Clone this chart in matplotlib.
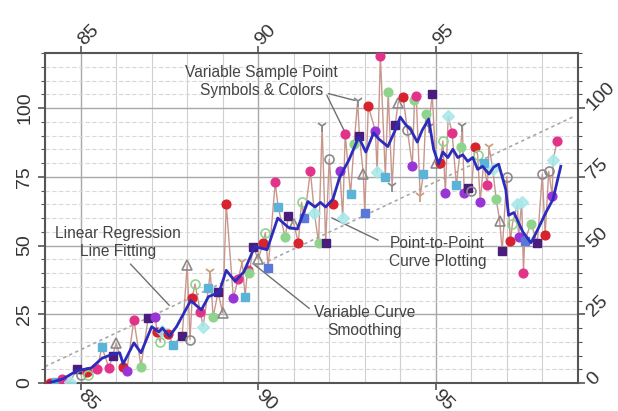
import numpy as np
import matplotlib
matplotlib.use("Agg")
import matplotlib.pyplot as plt
from matplotlib.ticker import MultipleLocator

plt.rcParams['font.family'] = ['Liberation Sans', 'DejaVu Sans']

# sample points: x, y, symbol code, colour code
pt_x = [84.14, 84.3, 84.48, 84.7, 84.9, 85.0, 85.18, 85.22, 85.46, 85.6,
        85.8, 85.9, 86.0, 86.2, 86.3, 86.5, 86.7, 86.9, 87.1, 87.15,
        87.24, 87.3, 87.46, 87.6, 87.86, 88.0, 88.08, 88.14, 88.22, 88.37,
        88.45, 88.6, 88.65, 88.73, 88.87, 89.0, 89.1, 89.3, 89.44, 89.55,
        89.63, 89.7, 89.75, 89.86, 90.0, 90.14, 90.2, 90.28, 90.48, 90.56,
        90.76, 90.85, 91.0, 91.13, 91.22, 91.3, 91.47, 91.58, 91.7, 91.8,
        91.9, 92.0, 92.1, 92.3, 92.38, 92.45, 92.6, 92.7, 92.8, 92.85,
        92.96, 93.0, 93.1, 93.3, 93.35, 93.44, 93.58, 93.66, 93.77, 93.86,
        93.94, 94.08, 94.2, 94.34, 94.4, 94.45, 94.56, 94.65, 94.72, 94.8,
        94.9, 95.0, 95.12, 95.2, 95.27, 95.35, 95.46, 95.58, 95.7, 95.75,
        95.8, 95.9, 96.0, 96.1, 96.18, 96.25, 96.35, 96.45, 96.5, 96.6,
        96.7, 96.8, 96.87, 97.0, 97.1, 97.16, 97.3, 97.33, 97.42, 97.47,
        97.5, 97.68, 97.86, 98.0, 98.08, 98.18, 98.28, 98.3, 98.42]
pt_y = [0, 0.5, 1.5, 0.5, 5, 3, 4, 3, 5, 13,
        5.5, 10, 14.5, 6, 4.5, 23, 6, 23.5, 24, 18.6,
        15, 19, 18, 14, 17, 43, 15.7, 31, 36, 26,
        20.5, 34.6, 40.5, 24, 33, 25.5, 65, 31, 38, 44,
        31.4, 41, 40, 49.6, 45, 51, 54.7, 42, 73, 64,
        53, 60.6, 58, 51, 65.7, 60, 77, 62, 51, 93.4,
        51, 81.4, 65, 77, 60, 90.5, 68.6, 87, 102.5, 89.8,
        76, 62, 100.7, 91.6, 76.6, 119, 75, 106, 71.5, 94,
        102, 104, 92, 79, 103, 104.5, 68, 76, 98, 93,
        105, 80, 80, 88, 69, 97, 91, 72, 86, 93.5,
        69, 71, 70, 86, 83, 66, 80, 72, 86, 78,
        67, 59, 48, 75, 51.5, 58, 65, 53, 66, 40,
        51.5, 58, 51, 76, 54, 77, 68, 81, 88]
pt_sym = ['o', 's', 'o', 'd', 's', 'O', 'o', 'O', 'o', 's',
          'o', 's', '^', 'o', 'o', 'o', 'o', 's', 'o', 'o',
          'O', 'd', 'o', 's', 's', '^', 'O', 'o', 'O', 'o',
          'd', 's', 'Y', 'o', 's', '^', 'o', 'o', 'o', 'Y',
          's', 'o', 'o', 's', '^', 'o', 'O', 's', 'o', 's',
          'o', 's', '^', 'o', 'O', 's', 'o', 'd', 'o', 'Y',
          's', 'O', 'o', 'o', 'd', 'o', 's', 'o', 'Y', 's',
          '^', 's', 'o', 'o', 'd', 'o', 's', 'o', 'Y', 's',
          '^', 'o', 'O', 'o', 'o', 'o', 'Y', 's', 'o', 'Y',
          's', '^', 'o', 'O', 'o', 'd', 'o', 's', 'o', 'Y',
          'o', 's', 'O', 'o', 'O', 'o', 's', 'o', 'Y', 'd',
          'o', '^', 's', 'O', 'o', 'O', 'd', 'o', 'd', 'o',
          's', 'o', 's', 'O', 'o', 'O', 'o', 'd', 'o']
pt_col = ['red', 'cyan', 'pink', 'lcyan', 'dpurple', 'gray', 'red', 'green', 'pink', 'cyan',
          'pink', 'dpurple', 'gray', 'red', 'purple', 'pink', 'green', 'dpurple', 'purple', 'red',
          'green', 'lcyan', 'red', 'cyan', 'dpurple', 'gray', 'gray', 'red', 'green', 'pink',
          'lcyan', 'cyan', 'tan', 'green', 'dpurple', 'gray', 'red', 'purple', 'pink', 'tan',
          'cyan', 'pink', 'green', 'dpurple', 'gray', 'red', 'green', 'blue', 'pink', 'cyan',
          'green', 'dpurple', 'gray', 'red', 'green', 'blue', 'pink', 'lcyan', 'green', 'gray',
          'dpurple', 'gray', 'red', 'purple', 'lcyan', 'pink', 'cyan', 'green', 'gray', 'dpurple',
          'gray', 'blue', 'red', 'purple', 'lcyan', 'pink', 'cyan', 'green', 'gray', 'dpurple',
          'gray', 'red', 'gray', 'purple', 'green', 'pink', 'tan', 'cyan', 'green', 'gray',
          'dpurple', 'gray', 'red', 'green', 'purple', 'lcyan', 'pink', 'cyan', 'green', 'gray',
          'purple', 'dpurple', 'gray', 'red', 'green', 'purple', 'cyan', 'pink', 'tan', 'lcyan',
          'green', 'gray', 'dpurple', 'gray', 'red', 'green', 'lcyan', 'purple', 'lcyan', 'pink',
          'blue', 'green', 'dpurple', 'gray', 'red', 'gray', 'purple', 'lcyan', 'pink']

# smoothed curve
sm_x = [84.1, 84.5, 84.9, 85.3, 85.6, 85.9, 86.1, 86.2, 86.5, 86.7,
        87.0, 87.2, 87.3, 87.5, 87.7, 88.1, 88.4, 88.6, 88.9, 89.1,
        89.35, 89.6, 89.9, 90.25, 90.55, 90.85, 91.1, 91.4, 91.6, 91.75,
        91.9, 92.1, 92.3, 92.55, 92.83, 93.03, 93.25, 93.4, 93.65, 93.86,
        94.0, 94.15, 94.3, 94.48, 94.62, 94.8, 94.94, 95.08, 95.2, 95.34,
        95.48, 95.62, 95.76, 95.9, 96.04, 96.18, 96.32, 96.5, 96.63, 96.77,
        96.97, 97.05, 97.2, 97.45, 97.68, 97.87, 98.1, 98.3, 98.52]
sm_y = [0, 1.5, 4.5, 5.5, 9, 10.5, 11, 7, 14.6, 11,
        20.5, 18.6, 20, 17, 20.5, 30, 26.6, 31.4, 33, 41,
        37, 40.5, 49.6, 48.5, 60, 56.6, 56, 66, 64, 65.7,
        64, 66.8, 75, 81, 89.4, 84, 91, 88.7, 86, 92,
        96.7, 94, 92, 87.6, 92, 96, 85, 79.6, 84, 82,
        85, 82, 83, 80.6, 82, 77.7, 78.8, 76, 78.5, 79.6,
        70.4, 61, 62, 55, 51, 55.8, 62, 66.8, 78.8]

# regression line end points
reg_x = [84.0, 98.9]
reg_y = [6.0, 97.0]

colors = {'red': '#d8222e', 'pink': '#e2338a', 'green': '#8fd48c', 'purple': '#9a34d6',
          'dpurple': '#4a1c7c', 'cyan': '#5bb4d8', 'lcyan': '#a6e8ea', 'gray': '#8a8a8a',
          'tan': '#c8a080', 'blue': '#5a78d8'}

fig = plt.figure(figsize=(6.18, 4.11), dpi=100)
ax = fig.add_axes([0.073, 0.068, 0.862, 0.803])

ax.set_xlim(84, 99)
ax.set_ylim(0, 120)

# grid
ax.xaxis.set_major_locator(MultipleLocator(5))
ax.xaxis.set_minor_locator(MultipleLocator(1))
ax.yaxis.set_major_locator(MultipleLocator(25))
ax.yaxis.set_minor_locator(MultipleLocator(5))
ax.grid(which='major', color='#a8a8a8', lw=1.0)
ax.grid(which='minor', axis='x', color='#d0d0d0', lw=0.8)
ax.grid(which='minor', axis='y', color='#d8d8d8', lw=0.8, ls=(0, (4, 2)))
ax.set_axisbelow(True)

# regression line
ax.plot(reg_x, reg_y, color='#a8a8a8', lw=1.2, ls=(0, (2, 2)), zorder=2)

# point to point curve
ax.plot(pt_x, pt_y, color='#c8968c', lw=1.0, zorder=3)

# sample symbols
for x, y, s, c in zip(pt_x, pt_y, pt_sym, pt_col):
    col = colors[c]
    if s == 'O':
        ax.plot(x, y, 'o', ms=6.5, mfc='none', mec=col, mew=1.2, zorder=4)
    elif s == '^':
        ax.plot(x, y, '^', ms=6.5, mfc='none', mec=col, mew=1.2, zorder=4)
    elif s == 'Y':
        ax.plot(x, y, '1', ms=8, color=col, mew=1.3, zorder=4)
    elif s == 'd':
        ax.plot(x, y, 'D', ms=6.5, mfc=col, mec=col, alpha=0.85, zorder=4)
    else:
        ax.plot(x, y, s, ms=6.3, mfc=col, mec=col, zorder=4)

# smoothed curve
ax.plot(sm_x, sm_y, color='#2c2cbc', lw=2.0, zorder=5)

# annotations
tc = '#444444'
lc = '#707070'
fs = 11.2
ax.text(90.1, 109.8, 'Variable Sample Point\nSymbols & Colors', ha='center', va='center',
        fontsize=fs, color=tc, linespacing=1.25)
ax.annotate('', xy=(92.8, 102.5), xytext=(91.9, 105.5),
            arrowprops=dict(arrowstyle='-', color=lc, lw=1))
ax.annotate('', xy=(92.45, 91), xytext=(91.9, 105.5),
            arrowprops=dict(arrowstyle='-', color=lc, lw=1))
ax.text(86.05, 51.0, 'Linear Regression\nLine Fitting', ha='center', va='center',
        fontsize=fs, color=tc, linespacing=1.25)
ax.annotate('', xy=(87.55, 27.5), xytext=(86.35, 44.0),
            arrowprops=dict(arrowstyle='-', color=lc, lw=1))
ax.text(93.0, 22.5, 'Variable Curve\nSmoothing', ha='center', va='center',
        fontsize=fs, color=tc, linespacing=1.25)
ax.annotate('', xy=(89.8, 44), xytext=(91.5, 26.5),
            arrowprops=dict(arrowstyle='-', color=lc, lw=1))
ax.text(95.05, 47.6, 'Point-to-Point\nCurve Plotting', ha='center', va='center',
        fontsize=fs, color=tc, linespacing=1.25)
ax.annotate('', xy=(92.0, 60.5), xytext=(93.45, 51.5),
            arrowprops=dict(arrowstyle='-', color=lc, lw=1))

# axes on all four sides
for sp in ax.spines.values():
    sp.set_color('#555555')
    sp.set_linewidth(1.5)
ax.tick_params(which='both', top=True, right=True, labeltop=True, labelright=True,
               direction='out', color='#555555')
ax.tick_params(which='major', length=5, width=1.2, labelsize=14, labelcolor='#333333')
ax.tick_params(which='minor', length=3, width=0.8)
ax.tick_params(axis='x', which='minor', length=0)
ax.tick_params(axis='x', which='major', pad=2)

ax.set_xticks([85, 90, 95])
ax.set_yticks([0, 25, 50, 75, 100])
for t in ax.xaxis.get_major_ticks():
    t.label1.set_rotation(-45)
    t.label1.set_ha('left')
    t.label1.set_va('center')
    t.label1.set_rotation_mode('anchor')
    t.label2.set_rotation(45)
    t.label2.set_ha('left')
    t.label2.set_va('center')
    t.label2.set_rotation_mode('anchor')
for t in ax.yaxis.get_major_ticks():
    t.label1.set_rotation(90)
    t.label1.set_va('center')
    t.label2.set_rotation(45)
    t.label2.set_ha('left')
    t.label2.set_va('center')
    t.label2.set_rotation_mode('anchor')

fig.savefig('out.png', dpi=100, facecolor='white')
